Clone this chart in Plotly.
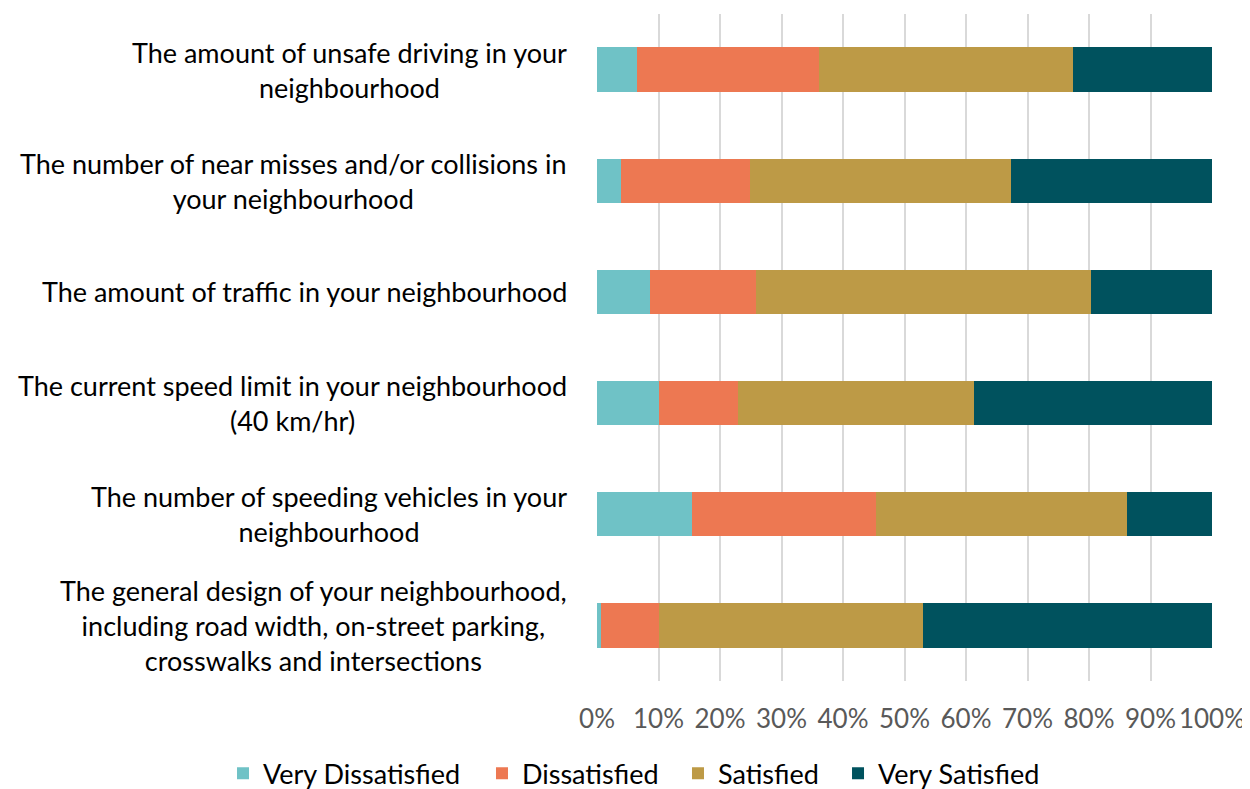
import plotly.graph_objects as go

categories = [
    "The amount of unsafe driving in your<br>neighbourhood",
    "The number of near misses and/or collisions in<br>your neighbourhood",
    "The amount of traffic in your neighbourhood",
    "The current speed limit in your neighbourhood<br>(40 km/hr)",
    "The number of speeding vehicles in your<br>neighbourhood",
    "The general design of your neighbourhood,<br>including road width, on-street parking,<br>crosswalks and intersections",
]
series_names = ["Very Dissatisfied", "Dissatisfied", "Satisfied", "Very Satisfied"]
very_dissatisfied = [6.5, 3.9, 8.6, 10.1, 15.4, 0.7]
dissatisfied = [29.6, 21.0, 17.3, 12.8, 30.0, 9.4]
satisfied = [41.3, 42.4, 54.4, 38.4, 40.8, 42.9]
very_satisfied = [22.6, 32.7, 19.7, 38.7, 13.8, 47.0]
colors = ["#6FC2C6", "#ED7852", "#BD9A46", "#00525E"]
tick_vals = [0, 10, 20, 30, 40, 50, 60, 70, 80, 90, 100]
tick_text = [f"{v}%" for v in tick_vals]

FONT = "Lato"
legend_ids = ["legend", "legend2", "legend3", "legend4"]
legend_x = [-0.6081, -0.187, 0.1317, 0.3919]

fig = go.Figure()
for name, vals, c, lid in zip(series_names, [very_dissatisfied, dissatisfied, satisfied, very_satisfied], colors, legend_ids):
    fig.add_trace(go.Bar(
        y=categories, x=vals, name=name, orientation="h",
        marker=dict(color=c, line=dict(width=0)), width=0.4, legend=lid,
    ))

for cat in categories:
    fig.add_annotation(
        x=0, y=cat, xref="paper", yref="y", text=cat, showarrow=False,
        xanchor="right", yanchor="middle", align="center", xshift=-28,
        font=dict(family=FONT, size=27, color="#000000"),
    )

legend_style = {}
for lid, lx in zip(legend_ids, legend_x):
    legend_style[lid] = dict(
        orientation="h", x=lx, xanchor="left", y=-0.139, yanchor="middle",
        font=dict(family=FONT, size=27, color="#000000"), bgcolor="rgba(0,0,0,0)",
    )

fig.update_layout(
    barmode="stack",
    width=1250, height=789,
    margin=dict(l=589, r=46, t=6, b=116, autoexpand=False),
    plot_bgcolor="white", paper_bgcolor="white",
    font=dict(family=FONT, size=26, color="#595959"),
    xaxis=dict(
        range=[0, 100], tickvals=tick_vals, ticktext=tick_text,
        showgrid=True, gridcolor="#D9D9D9", gridwidth=2, zeroline=False,
        tickfont=dict(family=FONT, size=26, color="#595959"), ticks="", ticklabelstandoff=20,
        automargin=False, fixedrange=True,
    ),
    yaxis=dict(
        autorange="reversed", showticklabels=False, showgrid=False, zeroline=False,
        automargin=False,
    ),
    showlegend=True,
    **legend_style,
)
fig.write_html("out.html")
